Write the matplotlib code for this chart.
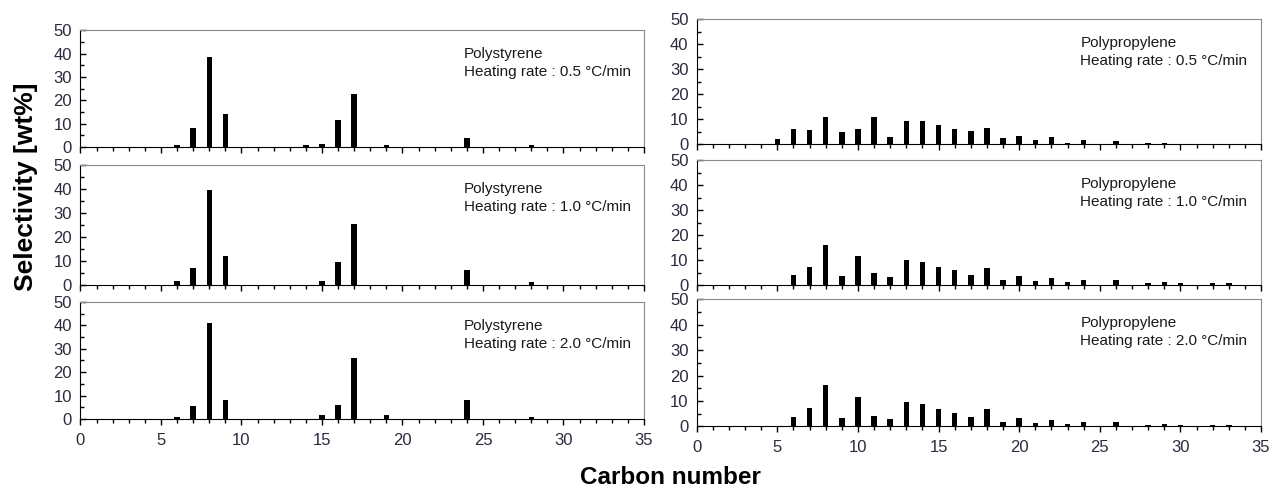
import matplotlib.pyplot as plt
from matplotlib.ticker import MultipleLocator

# --- data (carbon number -> selectivity wt%) ---
ps_carbon_05 = [6, 7, 8, 9, 14, 15, 16, 17, 19, 24, 28]
ps_sel_05 = [0.9, 8.0, 38.4, 14.1, 1.0, 1.4, 11.6, 22.6, 0.9, 3.7, 0.9]

ps_carbon_10 = [6, 7, 8, 9, 15, 16, 17, 24, 28]
ps_sel_10 = [1.8, 7.1, 39.7, 12.1, 1.8, 9.6, 25.5, 6.1, 1.3]

ps_carbon_20 = [6, 7, 8, 9, 15, 16, 17, 19, 24, 28]
ps_sel_20 = [1.0, 5.4, 41.0, 8.1, 1.6, 5.8, 26.1, 1.6, 8.1, 1.0]

pp_carbon_05 = [5, 6, 7, 8, 9, 10, 11, 12, 13, 14, 15, 16, 17, 18, 19, 20, 21, 22, 23, 24, 26, 28, 29]
pp_sel_05 = [2.3, 6.0, 5.6, 10.9, 5.1, 6.0, 10.9, 3.1, 9.3, 9.3, 7.6, 6.0, 5.2, 6.4,
             2.7, 3.5, 1.9, 3.1, 0.7, 1.9, 1.3, 0.5, 0.7]

pp_carbon_10 = [6, 7, 8, 9, 10, 11, 12, 13, 14, 15, 16, 17, 18, 19, 20, 21, 22, 23, 24, 26, 28, 29, 30, 32, 33]
pp_sel_10 = [4.1, 7.1, 16.2, 3.7, 11.6, 4.7, 3.3, 10.0, 9.1, 7.1, 5.9, 4.1, 6.7, 2.1,
             3.7, 1.7, 2.9, 1.2, 2.1, 2.1, 0.8, 1.2, 0.8, 0.8, 0.8]

pp_carbon_20 = [6, 7, 8, 9, 10, 11, 12, 13, 14, 15, 16, 17, 18, 19, 20, 21, 22, 23, 24, 26, 28, 29, 30, 32, 33]
pp_sel_20 = [3.8, 7.1, 16.3, 3.4, 11.5, 4.2, 3.0, 9.6, 8.7, 6.7, 5.4, 3.8, 6.7, 1.7,
             3.4, 1.3, 2.6, 0.9, 1.7, 1.7, 0.5, 0.9, 0.5, 0.5, 0.5]

rates = ["0.5", "1.0", "2.0"]

plt.rcParams['font.family'] = ['Liberation Sans', 'DejaVu Sans']

fig = plt.figure(figsize=(12.81, 4.86), dpi=100)

# axes rectangles [left, bottom, width, height] in figure fractions
left_boxes = [[0.0628, 0.6975, 0.4399, 0.2401],
              [0.0628, 0.4136, 0.4399, 0.2463],
              [0.0628, 0.1379, 0.4399, 0.2407]]
right_boxes = [[0.5439, 0.7031, 0.4405, 0.2572],
               [0.5439, 0.4136, 0.4405, 0.2566],
               [0.5439, 0.1228, 0.4405, 0.2613]]

panels = [
    (left_boxes[0], ps_carbon_05, ps_sel_05, "Polystyrene", rates[0], False),
    (left_boxes[1], ps_carbon_10, ps_sel_10, "Polystyrene", rates[1], False),
    (left_boxes[2], ps_carbon_20, ps_sel_20, "Polystyrene", rates[2], True),
    (right_boxes[0], pp_carbon_05, pp_sel_05, "Polypropylene", rates[0], False),
    (right_boxes[1], pp_carbon_10, pp_sel_10, "Polypropylene", rates[1], False),
    (right_boxes[2], pp_carbon_20, pp_sel_20, "Polypropylene", rates[2], True),
]

tick_color = '#2b2b3d'

for box, cx, sel, name, rate, show_x in panels:
    ax = fig.add_axes(box)
    ax.bar(cx, sel, width=0.34, color='black')
    ax.set_xlim(0, 35)
    ax.set_ylim(0, 50)
    ax.xaxis.set_major_locator(MultipleLocator(5))
    ax.xaxis.set_minor_locator(MultipleLocator(1))
    ax.yaxis.set_major_locator(MultipleLocator(10))
    ax.yaxis.set_minor_locator(MultipleLocator(5))
    ax.tick_params(axis='x', which='major', direction='out', length=4, width=1,
                   labelsize=12, labelcolor=tick_color, pad=6)
    ax.tick_params(axis='x', which='minor', direction='out', length=3, width=1)
    ax.tick_params(axis='y', which='major', direction='in', length=4, width=1,
                   labelsize=12, labelcolor=tick_color, pad=6)
    ax.tick_params(axis='y', which='minor', direction='in', length=3, width=1)
    if not show_x:
        ax.tick_params(axis='x', labelbottom=False)
    for side in ['top', 'right']:
        ax.spines[side].set_color('#8a8a8a')
    for side in ['left', 'bottom']:
        ax.spines[side].set_color('black')

    ax.annotate(name, xy=(0.68, 1), xycoords='axes fraction',
                xytext=(0, -17), textcoords='offset points',
                ha='left', va='center', fontsize=11, color='#1a1a1a')
    ax.annotate(f"Heating rate : {rate} °C/min", xy=(0.68, 1), xycoords='axes fraction',
                xytext=(0, -30), textcoords='offset points',
                ha='left', va='center', fontsize=11, color='#1a1a1a')

fig.text(0.020, 0.615, "Selectivity [wt%]", rotation=90, ha='center', va='center',
         fontsize=19, fontweight='bold')
fig.text(0.523, 0.0185, "Carbon number", ha='center', va='center',
         fontsize=17.5, fontweight='bold')

fig.savefig("out.png", dpi=100)
